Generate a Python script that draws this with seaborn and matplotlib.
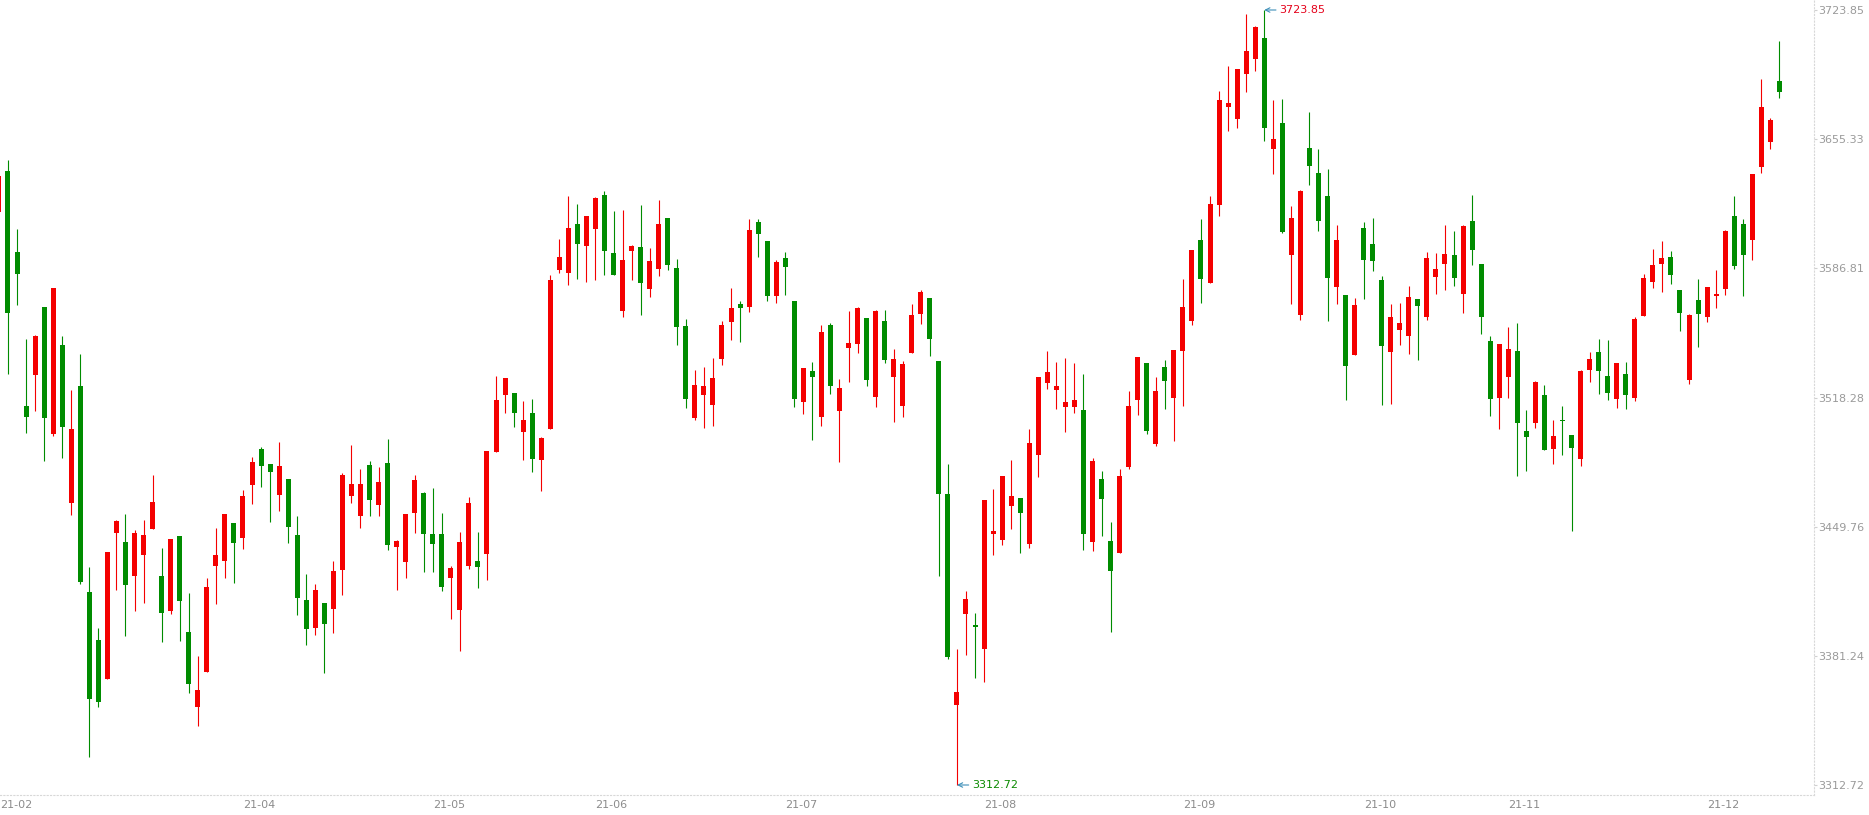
import numpy as np
import pandas as pd
import matplotlib
matplotlib.use("Agg")
import matplotlib.pyplot as plt
import seaborn as sns

# daily candles, 2021-02-23 .. 2021-12-13
opens = [
    3616.7, 3638.4, 3595.3, 3513.8, 3530.2, 3566.3, 3499.1, 3546.1, 3462.5, 3524.4,
    3415.1, 3389.6, 3369.1, 3446.6, 3441.6, 3423.6, 3434.7, 3448.5, 3423.6, 3405.2,
    3444.8, 3393.9, 3354.3, 3372.8, 3429.0, 3431.7, 3451.7, 3443.9, 3472.0, 3491.0,
    3483.0, 3466.7, 3475.0, 3445.3, 3410.8, 3396.1, 3409.3, 3406.3, 3426.9, 3466.2,
    3455.6, 3482.5, 3461.4, 3483.5, 3439.1, 3431.2, 3457.2, 3467.6, 3445.9, 3445.9,
    3422.7, 3405.7, 3429.0, 3431.6, 3435.4, 3489.4, 3519.6, 3520.7, 3500.0, 3510.1,
    3485.1, 3501.8, 3585.9, 3584.3, 3610.3, 3598.6, 3607.7, 3625.7, 3594.9, 3564.2,
    3596.0, 3598.1, 3575.8, 3586.5, 3613.5, 3587.0, 3556.2, 3507.4, 3519.6, 3514.3,
    3538.7, 3558.3, 3567.9, 3566.3, 3611.4, 3601.3, 3571.9, 3592.3, 3569.5, 3515.9,
    3532.5, 3507.7, 3556.8, 3511.3, 3544.3, 3546.8, 3560.4, 3518.3, 3559.0, 3529.4,
    3514.0, 3542.1, 3562.7, 3571.2, 3537.6, 3467.2, 3355.4, 3403.2, 3397.6, 3385.1,
    3446.1, 3442.5, 3460.8, 3464.8, 3440.8, 3487.9, 3526.1, 3522.0, 3513.4, 3513.4,
    3511.6, 3441.8, 3475.1, 3442.2, 3436.0, 3481.3, 3516.9, 3536.5, 3493.6, 3534.5,
    3518.2, 3543.1, 3559.1, 3601.8, 3579.1, 3620.5, 3672.6, 3665.8, 3690.1, 3698.0,
    3709.0, 3650.3, 3663.9, 3594.0, 3562.2, 3650.6, 3637.4, 3625.2, 3577.1, 3572.7,
    3541.0, 3608.2, 3599.7, 3580.6, 3542.6, 3554.3, 3551.0, 3570.5, 3561.1, 3582.4,
    3589.3, 3593.9, 3573.3, 3611.9, 3589.1, 3548.3, 3518.0, 3529.2, 3542.9, 3500.5,
    3504.8, 3519.6, 3491.0, 3506.4, 3498.4, 3485.6, 3532.9, 3542.4, 3529.7, 3517.5,
    3530.8, 3518.0, 3561.5, 3579.5, 3589.1, 3592.8, 3575.3, 3527.6, 3570.0, 3561.2,
    3572.3, 3575.6, 3614.5, 3610.1, 3602.0, 3640.3, 3653.9, 3686.1,
]
highs = [
    3646.0, 3644.3, 3607.7, 3549.3, 3551.4, 3566.3, 3576.4, 3550.9, 3522.3, 3541.4,
    3428.5, 3396.0, 3436.3, 3453.3, 3456.5, 3448.0, 3453.3, 3477.2, 3438.4, 3443.2,
    3444.8, 3414.6, 3381.2, 3422.5, 3449.0, 3456.5, 3451.7, 3469.2, 3486.7, 3492.0,
    3483.0, 3494.7, 3475.0, 3455.4, 3424.6, 3419.4, 3409.3, 3431.6, 3478.4, 3493.1,
    3480.3, 3484.6, 3481.4, 3496.3, 3442.7, 3456.5, 3477.2, 3468.2, 3470.3, 3457.0,
    3428.9, 3446.9, 3465.5, 3446.9, 3489.9, 3529.7, 3528.6, 3520.7, 3516.4, 3517.5,
    3497.3, 3583.3, 3602.4, 3625.2, 3620.9, 3614.6, 3624.6, 3627.8, 3617.2, 3617.8,
    3599.2, 3620.4, 3597.6, 3623.1, 3613.5, 3591.8, 3559.9, 3532.9, 3534.5, 3539.2,
    3558.9, 3576.4, 3569.5, 3613.0, 3613.0, 3601.3, 3591.0, 3595.5, 3569.5, 3533.9,
    3537.1, 3556.8, 3557.9, 3528.2, 3564.2, 3566.3, 3560.4, 3564.7, 3564.7, 3544.1,
    3537.6, 3567.9, 3575.3, 3571.2, 3537.6, 3482.9, 3384.9, 3415.8, 3404.1, 3464.0,
    3469.9, 3476.9, 3485.0, 3465.2, 3501.5, 3529.2, 3542.9, 3537.2, 3539.1, 3536.5,
    3530.8, 3486.2, 3479.5, 3452.5, 3480.4, 3521.7, 3539.8, 3536.5, 3529.2, 3538.2,
    3543.5, 3581.1, 3596.5, 3613.0, 3625.1, 3680.8, 3694.2, 3692.7, 3721.7, 3715.5,
    3723.85, 3676.1, 3676.6, 3619.9, 3628.4, 3669.7, 3650.1, 3639.5, 3609.8, 3572.7,
    3571.1, 3611.4, 3613.5, 3582.7, 3567.9, 3568.4, 3577.4, 3570.5, 3595.5, 3594.9,
    3609.8, 3606.6, 3609.8, 3625.7, 3589.1, 3550.9, 3546.7, 3555.7, 3557.8, 3511.6,
    3527.0, 3524.9, 3506.4, 3513.8, 3498.4, 3532.9, 3542.4, 3549.3, 3548.8, 3536.6,
    3537.1, 3561.0, 3583.8, 3597.1, 3601.3, 3596.0, 3575.3, 3562.6, 3581.1, 3576.7,
    3586.0, 3607.0, 3625.2, 3612.8, 3636.8, 3687.2, 3666.3, 3707.4,
]
lows = [
    3585.0, 3530.8, 3567.4, 3499.6, 3511.3, 3484.8, 3498.0, 3486.3, 3456.0, 3419.5,
    3327.7, 3354.3, 3369.1, 3416.2, 3391.8, 3405.0, 3409.4, 3448.5, 3388.7, 3403.6,
    3389.3, 3361.7, 3344.2, 3372.8, 3408.7, 3422.7, 3420.0, 3438.1, 3462.0, 3471.0,
    3452.4, 3458.2, 3441.3, 3403.0, 3387.1, 3392.4, 3372.3, 3393.5, 3413.7, 3462.5,
    3449.2, 3455.6, 3455.6, 3437.5, 3416.3, 3422.7, 3446.6, 3425.9, 3425.9, 3415.8,
    3400.9, 3384.0, 3427.5, 3417.4, 3421.6, 3489.4, 3510.1, 3502.6, 3485.1, 3478.8,
    3468.7, 3501.8, 3584.5, 3578.0, 3581.1, 3579.5, 3580.6, 3583.3, 3583.3, 3561.0,
    3580.6, 3562.0, 3571.6, 3582.7, 3585.9, 3546.1, 3512.7, 3506.4, 3502.3, 3503.2,
    3535.5, 3548.8, 3547.7, 3563.6, 3592.8, 3569.5, 3568.5, 3572.8, 3513.2, 3509.5,
    3495.7, 3503.2, 3520.2, 3484.2, 3526.7, 3542.1, 3524.5, 3513.2, 3536.6, 3505.5,
    3508.2, 3542.1, 3557.5, 3540.5, 3423.8, 3379.8, 3312.72, 3381.9, 3369.7, 3367.2,
    3434.8, 3440.2, 3448.7, 3436.0, 3438.2, 3476.2, 3523.0, 3512.3, 3500.2, 3510.3,
    3437.3, 3437.1, 3445.0, 3394.0, 3436.0, 3480.4, 3509.2, 3498.7, 3492.5, 3512.3,
    3495.4, 3514.0, 3557.0, 3568.6, 3579.1, 3614.4, 3659.9, 3661.0, 3680.5, 3691.6,
    3654.5, 3637.0, 3605.5, 3568.0, 3559.6, 3631.2, 3606.8, 3559.0, 3568.0, 3517.1,
    3541.0, 3570.7, 3585.5, 3514.5, 3515.0, 3546.3, 3541.5, 3538.3, 3559.6, 3573.3,
    3575.5, 3577.6, 3563.3, 3588.8, 3552.0, 3508.5, 3501.5, 3518.0, 3476.6, 3479.3,
    3502.1, 3490.4, 3483.0, 3487.8, 3447.5, 3481.9, 3526.5, 3520.1, 3516.9, 3512.7,
    3512.2, 3516.4, 3561.5, 3576.4, 3574.2, 3578.5, 3553.5, 3525.4, 3545.1, 3558.2,
    3565.9, 3572.6, 3586.3, 3572.0, 3591.3, 3637.6, 3650.3, 3677.1,
]
closes = [
    3635.8, 3563.3, 3583.8, 3508.1, 3550.9, 3507.6, 3576.4, 3502.8, 3501.6, 3420.4,
    3358.5, 3356.9, 3436.3, 3452.8, 3418.8, 3446.4, 3445.3, 3462.8, 3404.1, 3443.2,
    3410.5, 3366.5, 3363.1, 3417.8, 3434.7, 3456.5, 3441.3, 3466.0, 3484.1, 3482.1,
    3478.9, 3482.0, 3449.8, 3412.1, 3395.6, 3416.2, 3398.3, 3426.3, 3477.2, 3472.4,
    3472.4, 3464.0, 3473.5, 3440.2, 3442.1, 3456.5, 3474.5, 3446.0, 3440.7, 3417.9,
    3427.8, 3441.6, 3462.3, 3428.5, 3489.9, 3516.9, 3528.6, 3510.1, 3506.4, 3485.6,
    3496.8, 3580.6, 3592.8, 3608.2, 3599.7, 3614.6, 3624.1, 3596.0, 3583.3, 3591.2,
    3598.6, 3579.0, 3590.7, 3610.3, 3588.6, 3555.7, 3517.5, 3524.9, 3524.4, 3528.6,
    3556.7, 3565.8, 3565.8, 3607.2, 3605.0, 3572.1, 3590.2, 3587.6, 3517.7, 3533.9,
    3529.2, 3553.0, 3524.5, 3523.3, 3547.1, 3565.8, 3527.8, 3564.2, 3538.3, 3538.7,
    3536.0, 3562.0, 3574.0, 3549.5, 3467.0, 3380.4, 3361.8, 3411.4, 3396.7, 3464.0,
    3447.7, 3476.9, 3465.9, 3457.1, 3494.0, 3529.2, 3531.9, 3524.4, 3515.8, 3516.9,
    3446.1, 3484.6, 3464.5, 3426.5, 3476.7, 3513.8, 3539.8, 3500.4, 3521.7, 3527.2,
    3543.5, 3566.2, 3596.5, 3580.9, 3620.9, 3676.2, 3674.6, 3692.7, 3702.1, 3714.8,
    3661.4, 3655.4, 3606.1, 3613.5, 3627.8, 3641.2, 3612.1, 3581.9, 3601.8, 3535.2,
    3567.3, 3591.4, 3590.9, 3545.8, 3561.0, 3557.8, 3571.6, 3567.0, 3592.3, 3586.5,
    3594.4, 3581.9, 3609.3, 3596.7, 3561.0, 3517.5, 3546.7, 3544.0, 3504.8, 3497.3,
    3526.5, 3490.4, 3497.9, 3505.8, 3491.5, 3532.3, 3538.7, 3532.3, 3520.7, 3536.6,
    3519.6, 3559.9, 3581.7, 3588.6, 3592.3, 3583.3, 3563.1, 3562.0, 3562.6, 3576.7,
    3573.3, 3606.7, 3588.0, 3594.0, 3636.8, 3672.4, 3665.4, 3680.1,
]

# exchange holidays falling on weekdays
holidays = [
    "2021-04-05", "2021-05-03", "2021-05-04", "2021-05-05", "2021-06-14",
    "2021-09-20", "2021-09-21", "2021-10-01", "2021-10-04", "2021-10-05",
    "2021-10-06", "2021-10-07",
]
dates = pd.bdate_range("2021-02-23", "2021-12-13", freq="C", holidays=holidays)

ytick_labels = ["3312.72", "3381.24", "3449.76", "3518.28", "3586.81", "3655.33", "3723.85"]

UP = "#f40000"
DOWN = "#008c00"


def plot_kline():
    df = pd.DataFrame({"date": dates, "open": opens, "high": highs,
                       "low": lows, "close": closes})
    df["x"] = np.arange(len(df))
    df["up"] = df["close"] >= df["open"]

    sns.set_theme(style="white")
    plt.rcParams["font.family"] = ["DejaVu Sans"]

    fig = plt.figure(figsize=(18.69, 8.15), dpi=100)
    ax = fig.add_axes([0, 20 / 815, 1814 / 1869, 795 / 815])

    colors = np.where(df["up"], UP, DOWN)
    ax.vlines(df["x"], df["low"], df["high"], colors=colors, linewidth=0.8, zorder=2)
    body_low = df[["open", "close"]].min(axis=1)
    body_h = (df["close"] - df["open"]).abs().clip(lower=0.8)
    ax.bar(df["x"], body_h, bottom=body_low, width=0.553, color=colors,
           linewidth=0, zorder=3)

    ax.set_xlim(0.115, 200.83)
    ax.set_ylim(3307.415, 3729.155)

    # max / min markers
    imax = df["high"].idxmax()
    imin = df["low"].idxmin()
    ax.annotate(f"{df['high'][imax]:.2f}", xy=(df["x"][imax], df["high"][imax]),
                xytext=(15, 0), textcoords="offset pixels", ha="left", va="center",
                color="#e5001a", fontsize=8,
                arrowprops=dict(arrowstyle="->", color="#3d8fb8", lw=0.8,
                                shrinkA=0, shrinkB=0))
    ax.annotate(f"{df['low'][imin]:.2f}", xy=(df["x"][imin], df["low"][imin]),
                xytext=(15, 0), textcoords="offset pixels", ha="left", va="center",
                color="#0a8a00", fontsize=8,
                arrowprops=dict(arrowstyle="->", color="#3d8fb8", lw=0.8,
                                shrinkA=0, shrinkB=0))

    # y axis on the right
    ax.yaxis.tick_right()
    ax.set_yticks([float(s) for s in ytick_labels])
    ax.set_yticklabels(ytick_labels)
    ax.tick_params(axis="y", length=2.2, width=0.8, color="#d0d0d0", pad=0.6,
                   labelsize=8, labelcolor="#9a9a9a")

    # month labels, left aligned at the first trading day
    month_first = df.groupby(df["date"].dt.to_period("M"))["x"].min()
    kept = []
    for per, idx in month_first.items():
        if kept and idx - kept[-1][1] < 6:
            continue
        kept.append((per, idx))
    left = ax.get_xlim()[0]
    ax.set_xticks([max(idx, left) for _, idx in kept])
    ax.set_xticklabels([per.strftime("%y-%m") for per, _ in kept])
    for t in ax.get_xticklabels():
        t.set_ha("left")
    ax.tick_params(axis="x", length=0, pad=3.5, labelsize=8, labelcolor="#8c8c8c")

    ax.grid(False)
    for s in ["top", "left"]:
        ax.spines[s].set_visible(False)
    for s in ["right", "bottom"]:
        ax.spines[s].set_visible(True)
        ax.spines[s].set_color("#d8d8d8")
        ax.spines[s].set_linestyle((0, (1, 2)))
        ax.spines[s].set_linewidth(0.8)

    fig.savefig("out.png", dpi=100)
    plt.close(fig)


if __name__ == "__main__":
    plot_kline()
